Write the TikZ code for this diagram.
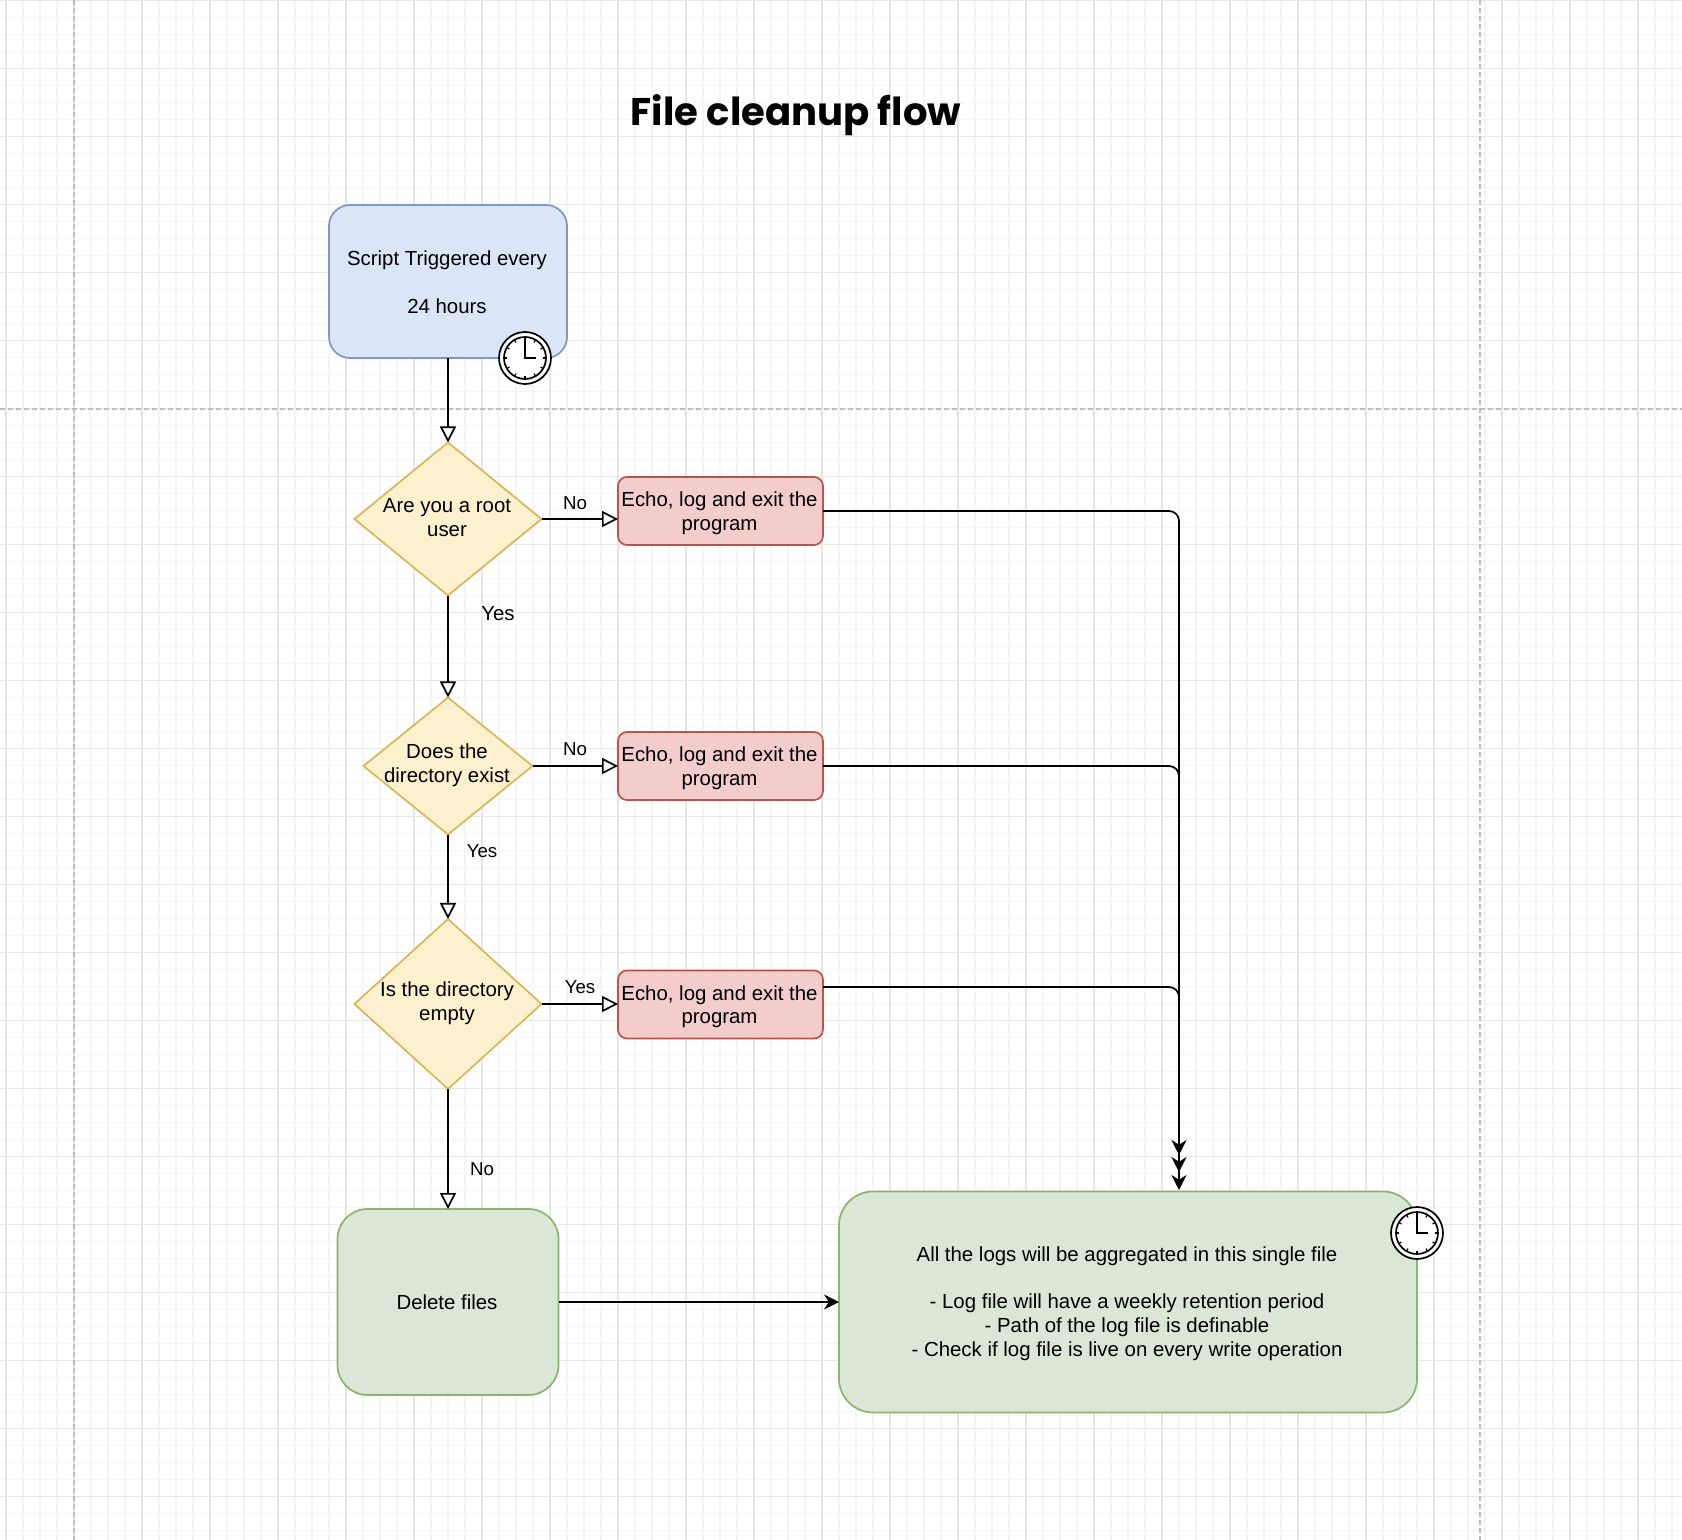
\documentclass[tikz,border=0pt]{standalone}
\usepackage{fontspec}
\usepackage{tikz}
\usetikzlibrary{arrows.meta,calc,shapes.geometric}
\setmainfont{Liberation Sans}
\newfontfamily\titlefont{Poppins}
\definecolor{gridminor}{HTML}{F5F5F5}
\definecolor{gridmajor}{HTML}{E6E6E6}
\definecolor{pageline}{HTML}{BDBDBD}
\definecolor{blueF}{HTML}{DAE6F8}
\definecolor{blueD}{HTML}{7C98C4}
\definecolor{yellowF}{HTML}{FCF1CF}
\definecolor{yellowD}{HTML}{D6B656}
\definecolor{redF}{HTML}{F2CDCC}
\definecolor{redD}{HTML}{B85450}
\definecolor{greenF}{HTML}{DAE7D6}
\definecolor{greenD}{HTML}{8CB372}
\newcommand*{\slim}[2][0pt]{\smash{\raisebox{#1}{\makebox[0pt]{\hspace{-1pt}\begin{tabular}{@{}c@{}}#2\end{tabular}}}}}
\newcommand*{\clockat}[1]{%
	\draw[line width=0.85pt] (#1.center) circle (10.5pt);
	\foreach \ang in {0,30,...,330}
		\draw[line width=0.6pt] ($(#1.center)+(\ang:10.5pt)$) -- ($(#1.center)+(\ang:9pt)$);
	\draw[line width=0.85pt] ($(#1.center)+(0,-19)$) -- (#1.center) -- ($(#1.center)+(11,0)$);
}
\tikzset{
	basebox/.style={draw, line width=0.85pt, inner sep=0pt, outer sep=0pt, font=\fontsize{10.2}{11.9}\selectfont},
	trigger/.style={basebox, rectangle, fill=blueF, draw=blueD, rounded corners=10.5pt},
	decision/.style={basebox, diamond, fill=yellowF, draw=yellowD},
	echobox/.style={basebox, rectangle, fill=redF, draw=redD, rounded corners=4.5pt, minimum width=102.5pt, minimum height=34pt},
	donebox/.style={basebox, rectangle, fill=greenF, draw=greenD},
	clockface/.style={circle, draw, line width=0.85pt, fill=white, inner sep=0pt, outer sep=0pt, minimum size=26pt},
	edgelabel/.style={inner sep=0pt, font=\fontsize{9.35}{11}\selectfont},
	openedge/.style={line width=0.85pt, -{Triangle[fill=white, length=8pt, width=8pt]}},
	solidedge/.style={line width=0.85pt, rounded corners=5pt, -{Stealth[length=7.5pt, width=7.5pt, inset=2.4pt]}},
}

\begin{document}
\begin{tikzpicture}[x=0.5pt, y=-0.5pt]
		\useasboundingbox (0,0) rectangle (1682,1540);
		% paper grid
		\foreach \gx in {0,...,99}
			\draw[gridminor, line width=0.6pt] ({6+17*\gx},0) -- ({6+17*\gx},1540);
		\foreach \gy in {0,...,91}
			\draw[gridminor, line width=0.6pt] (0,{0.5+17*\gy}) -- (1682,{0.5+17*\gy});
		\foreach \gx in {0,...,24}
			\draw[gridmajor, line width=0.7pt] ({6+68*\gx},0) -- ({6+68*\gx},1540);
		\foreach \gy in {0,...,22}
			\draw[gridmajor, line width=0.7pt] (0,{0.5+68*\gy}) -- (1682,{0.5+68*\gy});
		\draw[pageline, line width=0.7pt, dash pattern=on 2.5pt off 1.5pt] (74,0) -- (74,1540);
		\draw[pageline, line width=0.7pt, dash pattern=on 2.5pt off 1.5pt] (1480,0) -- (1480,1540);
		\draw[pageline, line width=0.7pt, dash pattern=on 2.5pt off 1.5pt] (0,409) -- (1682,409);

		\node[inner sep=0pt, font=\titlefont\fontsize{19.3}{23}\selectfont\bfseries] (Title) at (796,115) {File cleanup flow};

		\node[trigger, minimum width=119pt, minimum height=76.5pt] (T) at (448,281.5) {\slim[-4pt]{Script Triggered every\\[11.9pt]24 hours}};
		\node[decision, minimum width=93.5pt, minimum height=76.5pt] (Q1) at (448,519) {\slim[-2.9pt]{Are you a root\\user}};
		\node[decision, minimum width=84.5pt, minimum height=68.5pt] (Q2) at (448,766) {\slim[-2.4pt]{Does the\\directory exist}};
		\node[decision, minimum width=93.5pt, minimum height=85pt] (Q3) at (448,1004) {\slim[-2.4pt]{Is the directory\\empty}};
		\node[echobox] (E1) at (720.5,511) {\slim[-3.9pt]{Echo, log and exit the\\program}};
		\node[echobox] (E2) at (720.5,766) {\slim[-3.9pt]{Echo, log and exit the\\program}};
		\node[echobox] (E3) at (720.5,1004.5) {\slim[-3.9pt]{Echo, log and exit the\\program}};
		\node[donebox, rounded corners=15pt, minimum width=110.5pt, minimum height=93pt] (D) at (448,1302) {\slim[-3.7pt]{Delete files}};
		\node[donebox, rounded corners=17pt, minimum width=289pt, minimum height=110.5pt] (G) at (1128,1302) {\slim[-3.6pt]{All the logs will be aggregated in this single file\\[11.9pt]- Log file will have a weekly retention period\\- Path of the log file is definable\\- Check if log file is live on every write operation}};

		\node[clockface] (C1) at (525,358) {};
		\clockat{C1}
		\node[clockface] (C2) at (1417,1233) {};
		\clockat{C2}

		\draw[openedge] (T) -- (Q1);
		\draw[openedge] (Q1) -- (Q2);
		\draw[openedge] (Q2) -- (Q3);
		\draw[openedge] (Q3) -- (D);
		\draw[openedge] (Q1.east) -- (Q1.east -| E1.west);
		\draw[openedge] (Q2) -- (E2);
		\draw[openedge] (Q3) -- (E3.west |- Q3);

		\coordinate (X3) at (823,987);
		\coordinate (A1) at (1179,1155);
		\coordinate (A2) at (1179,1172);
		\coordinate (A3) at (1179,1190);
		\draw[solidedge] (E1.east) -| (A1);
		\draw[solidedge] (E2.east) -| (A2);
		\draw[solidedge] (X3) -| (A3);
		\draw[solidedge] (D) -- (G);

		\node[edgelabel] (L1) at (575,503) {No};
		\node[edgelabel, font=\fontsize{10.2}{12}\selectfont] (L2) at (498,614) {Yes};
		\node[edgelabel] (L3) at (575,749) {No};
		\node[edgelabel] (L4) at (482,851) {Yes};
		\node[edgelabel] (L5) at (580,987) {Yes};
		\node[edgelabel] (L6) at (482,1169) {No};
		\end{tikzpicture}
\end{document}
